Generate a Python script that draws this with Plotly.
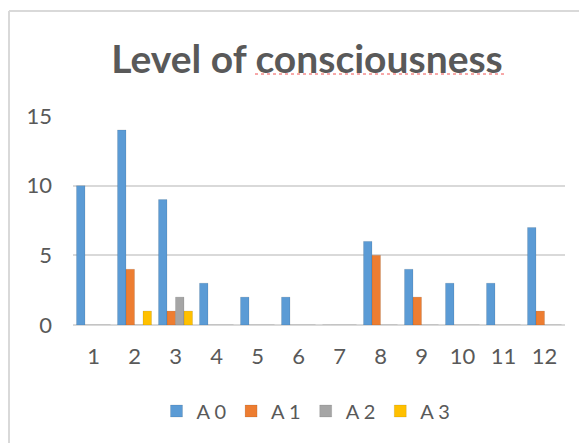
import plotly.graph_objects as go

categories = ["1", "2", "3", "4", "5", "6", "7", "8", "9", "10", "11", "12"]
series_names = ["A 0", "A 1", "A 2", "A 3"]
a0 = [10, 14, 9, 3, 2, 2, 0, 6, 4, 3, 3, 7]
a1 = [0, 4, 1, 0, 0, 0, 0, 5, 2, 0, 0, 1]
a2 = [0, 0, 2, 0, 0, 0, 0, 0, 0, 0, 0, 0]
a3 = [0, 1, 1, 0, 0, 0, 0, 0, 0, 0, 0, 0]
colors = ["#5B9BD5", "#ED7D31", "#A5A5A5", "#FFC000"]
title_text = "Level of consciousness"

W, H = 587, 443
OFF = 8  # page body offset
# desired page-pixel positions of plot area
PL, PR, PT, PB = 73, 565, 116, 325
L = PL - OFF
T = PT - OFF
R = W - (PR - OFF)
B = H - (PB - OFF)
pw = W - L - R
ph = H - T - B

def px_x(px):
    return (px - OFF - L) / pw

def px_y(py):
    return (H - B - (py - OFF)) / ph

fig = go.Figure()
for name, vals, col in zip(series_names, [a0, a1, a2, a3], colors):
    fig.add_trace(go.Bar(
        x=categories, y=vals, name=name,
        marker=dict(color=col, line=dict(width=0.8, color="rgba(0,0,0,0.12)")),
    ))

fig.update_layout(
    width=W, height=H,
    margin=dict(l=L, r=R, t=T, b=B),
    paper_bgcolor="white", plot_bgcolor="white",
    barmode="group", bargap=0.17, bargroupgap=0,
    font=dict(family="Lato, Calibri, sans-serif", color="#595959"),
    title=dict(
        text="<b>" + title_text + "</b>",
        font=dict(size=39, color="#595959", family="Lato, Calibri, sans-serif"),
        xref="container", yref="container",
        x=(307 - OFF) / W, xanchor="center",
        y=1 - 51 / H, yanchor="middle",
    ),
    showlegend=True,
    legend=dict(
        orientation="h",
        x=px_x(306), xanchor="center",
        y=px_y(411), yanchor="middle",
        font=dict(size=20, color="#595959"),
        itemwidth=30, traceorder="normal",
    ),
    xaxis=dict(
        type="category", showgrid=False, showline=False, ticks="",
        tickfont=dict(size=22, color="#595959"), ticklen=0,
        ticklabelstandoff=16,
    ),
    yaxis=dict(
        range=[0, 15], tickvals=[0, 5, 10, 15], showgrid=True,
        gridcolor="#D9D9D9", gridwidth=1.5, zeroline=True,
        zerolinecolor="#D9D9D9", zerolinewidth=1.5, showline=False,
        tickfont=dict(size=22, color="#595959"), ticks="",
        ticklabelstandoff=20,
    ),
    shapes=[
        dict(type="line", xref="paper", yref="paper",
             x0=px_x(9), x1=px_x(W + 20), y0=px_y(11), y1=px_y(11),
             line=dict(color="#D9D9D9", width=2)),
        dict(type="line", xref="paper", yref="paper",
             x0=px_x(9), x1=px_x(9), y0=px_y(11), y1=px_y(H + 20),
             line=dict(color="#D9D9D9", width=2)),
        dict(type="line", xref="paper", yref="paper",
             x0=px_x(255), x1=px_x(507), y0=px_y(74), y1=px_y(74),
             line=dict(color="#F05050", width=1, dash="dot")),
    ],
)

fig.write_html("out.html")
